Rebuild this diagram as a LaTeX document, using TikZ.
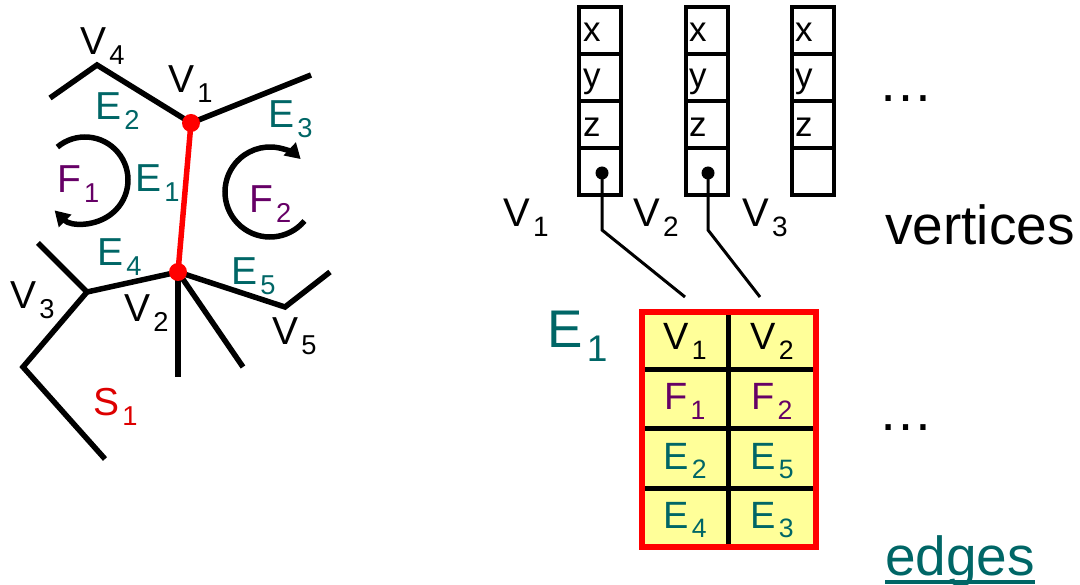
\documentclass[tikz,border=0pt]{standalone}
\usepackage{fontspec}
\setmainfont{Liberation Sans}
\usetikzlibrary{arrows.meta}
\definecolor{eteal}{HTML}{006666}
\definecolor{fpurple}{HTML}{660066}
\definecolor{sred}{HTML}{DD0000}
\definecolor{cellyellow}{HTML}{FFFF99}
\newcommand\sbx[1]{\kern0.08em\raisebox{-0.25em}{\scalebox{0.7}{#1}}}
\newcommand\fsz[1]{\fontsize{#1}{#1}\selectfont}
\begin{document}
\begin{tikzpicture}[x=1pt,y=-1pt,
  gedge/.style={line width=5.5pt},
  redge/.style={line width=5.5pt, red},
  vdot/.style={circle, fill=red, inner sep=0pt, minimum size=18pt},
  lbl/.style={anchor=base west, inner sep=0pt, font=\fsz{39}},
  elbl/.style={lbl, text=eteal},
  flbl/.style={lbl, text=fpurple},
  rotarrow/.style={line width=5.5pt, -{Triangle[length=15pt,width=17pt]}},
  cell/.style={draw, line width=4pt, minimum width=42pt, minimum height=47pt, inner sep=0pt},
  ctxt/.style={anchor=base west, inner sep=0pt, font=\fsz{35}},
  pdot/.style={circle, fill=black, inner sep=0pt, minimum size=13pt},
  ptr/.style={line width=3pt},
  tline/.style={line width=5pt},
  tlbl/.style={anchor=base, inner sep=0pt, font=\fsz{38}},
  big/.style={anchor=base west, inner sep=0pt, font=\fsz{55}}
]
\useasboundingbox (0,0) rectangle (1080,585);

% ---------- left graph ----------
\coordinate (V4) at (97,65);
\coordinate (A) at (50,98);
\coordinate (V1) at (191,123);
\coordinate (B) at (311,75);
\coordinate (V2) at (178,272);
\coordinate (V3) at (87,292);
\coordinate (C) at (38,243);
\coordinate (D) at (23,367);
\coordinate (E) at (105,459);
\coordinate (F) at (178,377);
\coordinate (G) at (243,367);
\coordinate (V5) at (285,307);
\coordinate (H) at (330,272);

\draw[gedge] (A) -- (V4) -- (V1);
\draw[gedge] (V1) -- (B);
\draw[gedge] (V2) -- (V3);
\draw[gedge] (C) -- (V3) -- (D) -- (E);
\draw[gedge] (V2) -- (F);
\draw[gedge] (V2) -- (G);
\draw[gedge] (V2) -- (V5) -- (H);
\draw[redge] (V1) -- (V2);
\node[vdot] (d1) at (V1) {};
\node[vdot] (d2) at (V2) {};

\coordinate (c1) at (85,180);
\coordinate (c2) at (270,192);
\draw[rotarrow] (c1) ++(-130:43) arc[start angle=-130, end angle=135, radius=43];
\draw[rotarrow] (c2) ++(40:45) arc[start angle=40, end angle=313, radius=45];

\node[lbl] (lV4) at (80,55) {V\sbx{4}};
\node[lbl] (lV1) at (168,93) {V\sbx{1}};
\node[elbl] (lE2) at (95,120) {E\sbx{2}};
\node[elbl] (lE3) at (268,128) {E\sbx{3}};
\node[flbl] (lF1) at (57,193) {F\sbx{1}};
\node[elbl] (lE1) at (135,192) {E\sbx{1}};
\node[flbl] (lF2) at (249,213) {F\sbx{2}};
\node[elbl] (lE4) at (97,266) {E\sbx{4}};
\node[elbl] (lE5) at (231,285) {E\sbx{5}};
\node[lbl] (lV3) at (10,309) {V\sbx{3}};
\node[lbl] (lV2) at (124,322) {V\sbx{2}};
\node[lbl] (lV5) at (272,345) {V\sbx{5}};
\node[lbl, text=sred] (lS1) at (93,416) {S\sbx{1}};

% ---------- vertex records ----------
\foreach \c/\x in {a/600,b/707,c/813}{
  \foreach \r/\y in {1/30.5,2/77.5,3/124.5,4/171.5}{
    \node[cell] (r\c\r) at (\x,\y) {};
  }
}
\foreach \c/\x in {a/583,b/689,c/795}{
  \node[ctxt] (x\c) at (\x,42) {x};
  \node[ctxt] (y\c) at (\x,88) {y};
  \node[ctxt] (z\c) at (\x,137) {z};
}
\node[pdot] (pa) at (602,173) {};
\node[pdot] (pb) at (708,173) {};
\coordinate (ka) at (602,230);
\coordinate (kb) at (708,230);
\coordinate (ea) at (685,297);
\coordinate (eb) at (760,297);
\draw[ptr] (pa.center) -- (ka) -- (ea);
\draw[ptr] (pb.center) -- (kb) -- (eb);

\node[lbl, font=\fsz{40}] (rV1) at (503,227) {V\sbx{1}};
\node[lbl, font=\fsz{40}] (rV2) at (633,227) {V\sbx{2}};
\node[lbl, font=\fsz{40}] (rV3) at (742,227) {V\sbx{3}};

\node[big] (dots1) at (878,102) {…};
\node[big] (vert) at (885,245) {vertices};

% ---------- edge record ----------
\node[big, text=eteal, font=\fsz{53}] (bigE1) at (547,348) {E\sbx{1}};

\fill[cellyellow] (642,312) rectangle (815.5,547);
\draw[tline] (728,312) -- (728,547);
\foreach \yy in {370,429,488}{
  \draw[tline] (642,\yy) -- (815.5,\yy);
}
\draw[red, line width=6pt] (642,312) rectangle (815.5,547);

\node[tlbl] (tV1) at (685,350) {V\sbx{1}};
\node[tlbl] (tV2) at (772,350) {V\sbx{2}};
\node[tlbl, text=fpurple] (tF1) at (685,410) {F\sbx{1}};
\node[tlbl, text=fpurple] (tF2) at (772,410) {F\sbx{2}};
\node[tlbl, text=eteal] (tE2) at (685,469) {E\sbx{2}};
\node[tlbl, text=eteal] (tE5) at (772,469) {E\sbx{5}};
\node[tlbl, text=eteal] (tE4) at (685,528) {E\sbx{4}};
\node[tlbl, text=eteal] (tE3) at (772,528) {E\sbx{3}};

\node[big] (dots2) at (878,431) {…};
\node[big, text=eteal] (edg) at (885,575) {edges};
\draw[eteal, line width=3.5pt] ([yshift=-7pt]edg.base west) -- ([yshift=-7pt]edg.base east);
\end{tikzpicture}
\end{document}
